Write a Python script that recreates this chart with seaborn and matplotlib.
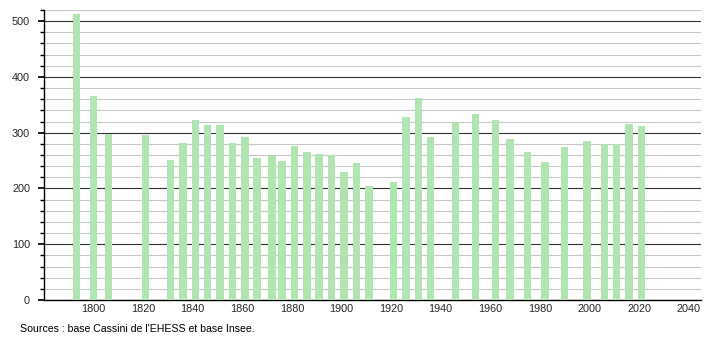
import matplotlib
matplotlib.use("Agg")
import matplotlib.pyplot as plt
import seaborn as sns
import pandas as pd
from matplotlib.ticker import MultipleLocator

years = [1793, 1800, 1806, 1821, 1831, 1836, 1841, 1846, 1851, 1856, 1861, 1866,
         1872, 1876, 1881, 1886, 1891, 1896, 1901, 1906, 1911, 1921, 1926, 1931,
         1936, 1946, 1954, 1962, 1968, 1975, 1982, 1990, 1999, 2006, 2011, 2016, 2021]
population = [513, 366, 297, 295, 251, 282, 322, 313, 313, 281, 293, 254,
              258, 250, 276, 266, 262, 260, 229, 246, 205, 212, 328, 363,
              293, 320, 333, 323, 288, 265, 248, 274, 286, 280, 280, 315, 312]
source_text = "Sources : base Cassini de l'EHESS et base Insee."

df = pd.DataFrame({"year": years, "population": population})

sns.set_theme(style="white")
plt.rcParams['font.family'] = ['Liberation Sans', 'DejaVu Sans']

fig = plt.figure(figsize=(7.1, 3.4), dpi=100)
ax = fig.add_axes([44/710, 1 - 300/340, (701 - 44)/710, 290/340])

sns.barplot(data=df, x="year", y="population", native_scale=True,
            color="#b0e4b0", saturation=1, width=0.75, ax=ax, zorder=3,
            linewidth=0, edgecolor="none")

ax.set_xlim(1780, 2045)
ax.set_ylim(0, 520)
ax.yaxis.set_major_locator(MultipleLocator(100))
ax.yaxis.set_minor_locator(MultipleLocator(20))
ax.set_xticks(range(1800, 2041, 20))

ax.grid(axis="y", which="minor", color="#c8c8c8", linewidth=0.8)
ax.grid(axis="y", which="major", color="#333333", linewidth=0.8)
ax.set_axisbelow(True)

for s in ["top", "right"]:
    ax.spines[s].set_visible(False)
ax.spines["left"].set_color("#000000")
ax.spines["bottom"].set_color("#000000")
ax.spines["left"].set_linewidth(1.0)
ax.spines["bottom"].set_linewidth(1.0)

ax.tick_params(axis="y", which="both", left=True, direction="out", color="#000000",
               labelsize=7.8, pad=6)
ax.tick_params(axis="y", which="major", length=4)
ax.tick_params(axis="y", which="minor", length=3)
ax.tick_params(axis="x", which="both", bottom=False, length=0, labelsize=7.8, pad=3)
ax.set_xlabel("")
ax.set_ylabel("")

fig.text(20/710, 1 - 329/340, source_text, fontsize=7.6, ha="left", va="center", color="#000000")

fig.savefig("out.png", dpi=100)
